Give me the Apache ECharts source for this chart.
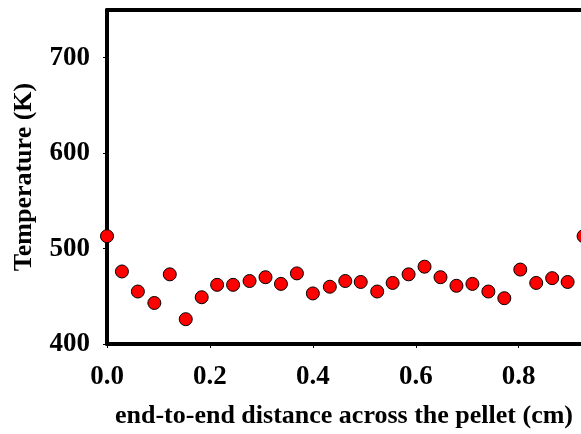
<!DOCTYPE html>
<html>
<head>
<meta charset="utf-8">
<title>Temperature across the pellet</title>
<script src="https://cdn.jsdelivr.net/npm/echarts@6/dist/echarts.min.js"></script>
<style>
  html, body { margin: 0; padding: 0; background: #ffffff; }
  #chart { width: 581px; height: 434px; }
</style>
</head>
<body>
<div id="chart"></div>
<script>
// Measured temperature profile along the pellet
const distance = [0.000, 0.029, 0.060, 0.092, 0.122, 0.153, 0.184, 0.214, 0.245, 0.277,
                  0.308, 0.338, 0.369, 0.400, 0.433, 0.463, 0.493, 0.525, 0.555, 0.586,
                  0.617, 0.648, 0.679, 0.710, 0.741, 0.772, 0.803, 0.834, 0.865, 0.895, 0.926];
const temperature = [513, 476, 455, 443, 473, 426, 449, 462, 462, 466,
                     470, 463, 474, 453, 460, 466, 465, 455, 464, 473,
                     481, 470, 461, 463, 455, 448, 478, 464, 469, 465, 513];

const xTitle = 'end-to-end distance across the pellet (cm)';
const yTitle = 'Temperature (K)';

const points = distance.map((d, i) => [d, temperature[i]]);

const font = '"Liberation Serif", "Times New Roman", serif';

const chart = echarts.init(document.getElementById('chart'), null, { renderer: 'canvas' });

chart.setOption({
  backgroundColor: '#ffffff',
  animation: false,
  grid: { left: 107, right: 0, top: 10, bottom: 90, containLabel: false },
  xAxis: [
    {
      type: 'value',
      min: 0,
      max: 0.921,
      interval: 0.2,
      name: xTitle,
      nameLocation: 'middle',
      nameGap: 59,
      nameTextStyle: { fontFamily: font, fontWeight: 'bold', fontSize: 26, color: '#000' },
      axisLine: { show: true, onZero: false, lineStyle: { color: '#000', width: 4 } },
      axisTick: { show: true, inside: false, length: 4, lineStyle: { color: '#000', width: 1 } },
      axisLabel: {
        fontFamily: font, fontWeight: 'bold', fontSize: 27, color: '#000', margin: 20,
        showMaxLabel: false,
        formatter: v => v.toFixed(1)
      },
      splitLine: { show: false }
    },
    {
      // top edge of the frame
      type: 'value',
      position: 'top',
      min: 0,
      max: 0.921,
      axisLine: { show: true, onZero: false, lineStyle: { color: '#000', width: 4 } },
      axisTick: { show: false },
      axisLabel: { show: false },
      splitLine: { show: false }
    }
  ],
  yAxis: {
    type: 'value',
    min: 400,
    max: 750,
    interval: 100,
    name: yTitle,
    nameLocation: 'middle',
    nameGap: 70,
    nameTextStyle: { fontFamily: font, fontWeight: 'bold', fontSize: 26, color: '#000' },
    axisLine: { show: true, onZero: false, lineStyle: { color: '#000', width: 4 } },
    axisTick: { show: true, inside: false, length: 4, lineStyle: { color: '#000', width: 1 } },
    axisLabel: {
      fontFamily: font, fontWeight: 'bold', fontSize: 27, color: '#000', margin: 17,
      showMaxLabel: false
    },
    splitLine: { show: false }
  },
  series: [
    {
      type: 'scatter',
      xAxisIndex: 0,
      data: points,
      clip: false,
      symbol: 'circle',
      symbolSize: 13,
      itemStyle: { color: '#ff0000', borderColor: '#000', borderWidth: 1, opacity: 1 },
      z: 5
    }
  ]
});
</script>
</body>
</html>
